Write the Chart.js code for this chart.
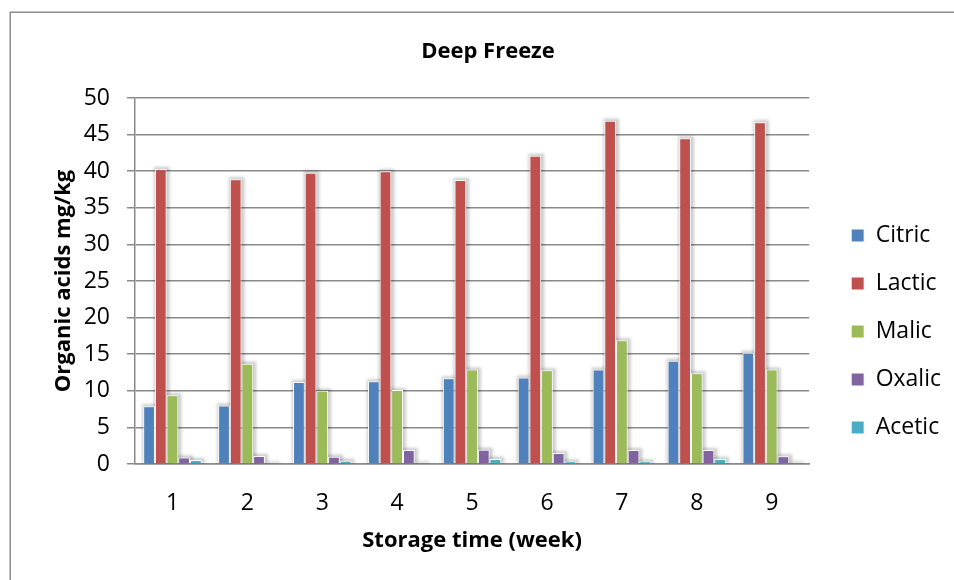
<!DOCTYPE html>
<html>
<head>
<meta charset="utf-8">
<title>Deep Freeze</title>
<script src="https://cdn.jsdelivr.net/npm/chart.js@4/dist/chart.umd.min.js"></script>
<style>
  html, body { margin: 0; padding: 0; background: #fff; }
  #wrap { width: 954px; height: 580px; position: relative; }
</style>
</head>
<body>
<div id="wrap"><canvas id="chart"></canvas></div>
<script>
// Storage weeks on the category axis
const weeks = ['1', '2', '3', '4', '5', '6', '7', '8', '9'];

// Organic acid content (mg/kg) per week, deep-freeze storage
const citric = [7.9, 8.0, 11.2, 11.3, 11.7, 11.8, 12.9, 14.1, 15.2];
const lactic = [40.3, 38.9, 39.8, 40.0, 38.8, 42.1, 46.9, 44.5, 46.7];
const malic  = [9.4, 13.7, 10.0, 10.1, 12.9, 12.8, 16.9, 12.4, 12.9];
const oxalic = [0.9, 1.1, 1.0, 1.9, 1.95, 1.5, 1.9, 1.9, 1.05];
const acetic = [0.55, 0.1, 0.45, 0.1, 0.7, 0.35, 0.35, 0.7, 0.1];

// Value axis ticks
const yTicks = [0, 5, 10, 15, 20, 25, 30, 35, 40, 45, 50];

const seriesNames  = ['Citric', 'Lactic', 'Malic', 'Oxalic', 'Acetic'];
const seriesValues = [citric, lactic, malic, oxalic, acetic];
const seriesColors = ['#4F81BD', '#C0504D', '#9BBB59', '#8064A2', '#4BACC6'];

const FONT = '"Open Sans", "DejaVu Sans", sans-serif';
const GRID = '#8a8a8a';

Chart.defaults.font.family = FONT;
Chart.defaults.color = '#000';

// Soft grey halo behind each bar
const barShadow = {
  id: 'barShadow',
  beforeDatasetsDraw(chart) {
    const ctx = chart.ctx;
    const area = chart.chartArea;
    ctx.save();
    ctx.beginPath();
    ctx.rect(area.left, area.top - 10, area.right - area.left, area.bottom - area.top + 10);
    ctx.clip();
    ctx.filter = 'blur(1.5px)';
    ctx.fillStyle = 'rgba(0,0,0,0.20)';
    chart.getSortedVisibleDatasetMetas().forEach(meta => {
      meta.data.forEach(el => {
        const p = el.getProps(['x', 'y', 'base', 'width'], true);
        ctx.fillRect(p.x - p.width / 2 - 1, p.y - 2, p.width + 4, p.base - p.y + 2);
      });
    });
    ctx.restore();
  }
};

// Outer frame of the chart object
const frame = {
  id: 'frame',
  beforeDraw(chart) {
    const ctx = chart.ctx;
    ctx.save();
    ctx.strokeStyle = '#8c8c8c';
    ctx.lineWidth = 1.5;
    ctx.strokeRect(10.25, 12.25, chart.width + 40, chart.height + 40);
    ctx.restore();
  }
};

new Chart(document.getElementById('chart'), {
  type: 'bar',
  data: {
    labels: weeks,
    datasets: seriesNames.map((name, i) => ({
      label: name,
      data: seriesValues[i],
      backgroundColor: seriesColors[i],
      borderColor: '#ffffff',
      borderWidth: 1,
      categoryPercentage: 0.78,
      barPercentage: 1.0,
      yAxisID: 'y'
    }))
  },
  options: {
    responsive: true,
    maintainAspectRatio: false,
    animation: false,
    layout: { padding: { left: 25, right: 3, top: 0, bottom: 0 } },
    plugins: {
      title: {
        display: true,
        text: 'Deep Freeze',
        font: { size: 22, weight: 'bold', family: FONT },
        color: '#000',
        padding: { top: 39, bottom: 32.6 }
      },
      legend: {
        position: 'right',
        align: 'end',
        fullSize: false,
        labels: {
          boxWidth: 13,
          boxHeight: 13,
          padding: 25,
          font: { size: 23, family: FONT },
          color: '#000'
        }
      },
      tooltip: { enabled: false }
    },
    scales: {
      x: {
        grid: { display: false },
        border: { display: true, color: GRID, width: 1.5 },
        ticks: { padding: 18, font: { size: 23 }, color: '#000', maxRotation: 0 },
        title: {
          display: true,
          text: 'Storage time (week)',
          font: { size: 22, weight: 'bold' },
          color: '#000',
          padding: { top: 0, bottom: 25.8 }
        },
        afterFit(scale) { scale.height = 116; }
      },
      y: {
        min: 0,
        max: 50,
        afterBuildTicks(scale) { scale.ticks = yTicks.map(v => ({ value: v })); },
        grid: { color: GRID, lineWidth: 1.5, tickLength: 8, drawTicks: true },
        border: { display: true, color: GRID, width: 1.5 },
        ticks: { padding: 17, font: { size: 23 }, color: '#000' },
        title: {
          display: true,
          text: 'Organic acids mg/kg',
          font: { size: 22, weight: 'bold' },
          color: '#000',
          padding: { top: 25.8, bottom: 0 }
        },
        afterFit(scale) { scale.width = 110; }
      },
      // spacer between plot area and legend
      gap: {
        type: 'linear',
        position: 'right',
        display: true,
        grid: { display: false },
        border: { display: false },
        ticks: { display: false },
        afterFit(scale) { scale.width = 17; }
      }
    }
  },
  plugins: [frame, barShadow]
});
</script>
</body>
</html>
